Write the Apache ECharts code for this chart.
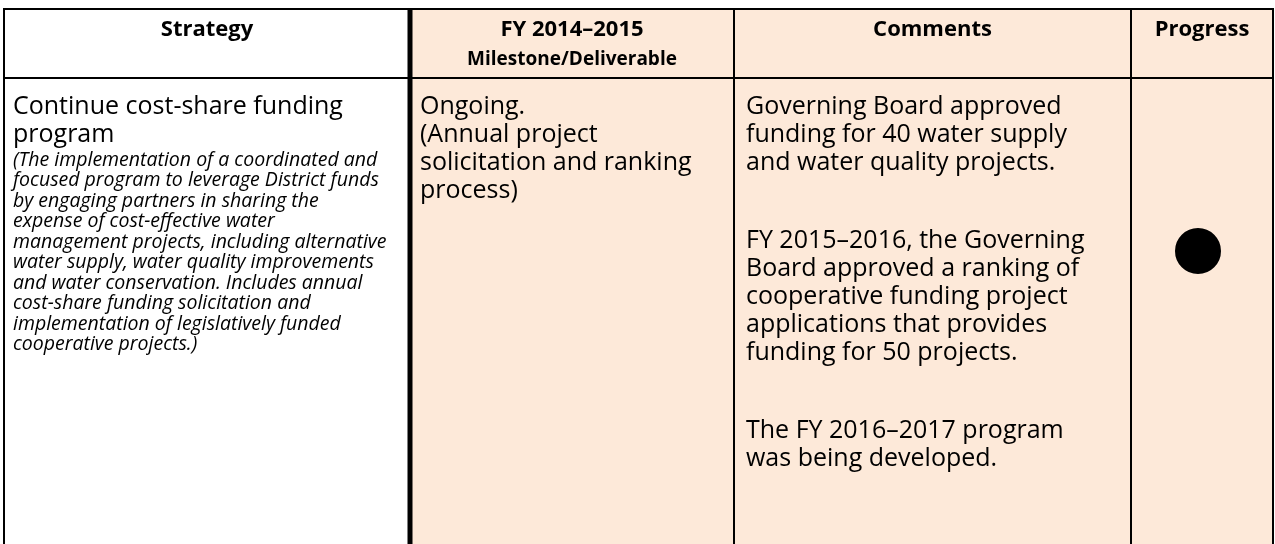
<!DOCTYPE html>
<html>
<head>
<meta charset="utf-8">
<script src="https://cdn.jsdelivr.net/npm/echarts@6/dist/echarts.min.js"></script>
<style>
  html, body { margin: 0; padding: 0; background: #fff; }
  #main { width: 1275px; height: 544px; }
</style>
</head>
<body>
<div id="main"></div>
<script>
// table content
var headers = ['Strategy', 'FY 2014\u20132015', 'Comments', 'Progress'];
var headerSub = ['', 'Milestone/Deliverable', '', ''];
var strategyTitle = ['Continue cost-share funding', 'program'];
var strategyNote = [
    '(The implementation of a coordinated and',
    'focused program to leverage District funds',
    'by engaging partners in sharing the',
    'expense of cost-effective water',
    'management projects, including alternative',
    'water supply, water quality improvements',
    'and water conservation. Includes annual',
    'cost-share funding solicitation and',
    'implementation of legislatively funded',
    'cooperative projects.)'
];
var milestoneLines = ['Ongoing.', '(Annual project', 'solicitation and ranking', 'process)'];
var commentParas = [
    ['Governing Board approved', 'funding for 40 water supply', 'and water quality projects.'],
    ['FY 2015\u20132016, the Governing', 'Board approved a ranking of', 'cooperative funding project',
     'applications that provides', 'funding for 50 projects.'],
    ['The FY 2016\u20132017 program', 'was being developed.']
];
var progress = ['full'];

// layout
var colEdges = [4, 410, 734, 1131, 1273];
var colFill = ['#ffffff', '#fde9d9', '#fde9d9', '#fde9d9'];
var tableTop = 9, headerBottom = 78, tableBottom = 560;
var font = '"Open Sans", "Noto Sans", sans-serif';

var dom = document.getElementById('main');
var myChart = echarts.init(dom);

var els = [];

// cell backgrounds
colFill.forEach(function (c, i) {
    els.push({
        type: 'rect',
        shape: { x: colEdges[i], y: tableTop, width: colEdges[i + 1] - colEdges[i], height: tableBottom - tableTop },
        style: { fill: c }
    });
});

// grid lines
function hline(y, x1, x2, w) {
    els.push({ type: 'line', shape: { x1: x1, y1: y, x2: x2, y2: y }, style: { stroke: '#000', lineWidth: w } });
}
function vline(x, w) {
    els.push({ type: 'line', shape: { x1: x, y1: tableTop - 1, x2: x, y2: tableBottom }, style: { stroke: '#000', lineWidth: w } });
}
hline(tableTop, colEdges[0] - 1, colEdges[4] + 1, 2);
hline(headerBottom, colEdges[0], colEdges[4], 2);
vline(colEdges[0], 2);
vline(colEdges[1], 5);
vline(colEdges[2], 2);
vline(colEdges[3], 2);
vline(colEdges[4], 2);

function txt(s, x, y, size, opts) {
    opts = opts || {};
    els.push({
        type: 'text',
        x: x, y: y,
        style: {
            text: s,
            fill: '#000',
            font: (opts.italic ? 'italic ' : '') + (opts.bold ? 'bold ' : '') + size + 'px ' + font,
            textAlign: opts.align || 'left',
            textVerticalAlign: 'middle'
        }
    });
}

// headers
headers.forEach(function (h, i) {
    var cx = (colEdges[i] + colEdges[i + 1]) / 2;
    txt(h, cx, 30, 22, { bold: true, align: 'center' });
    if (headerSub[i]) txt(headerSub[i], cx, 60, 19, { bold: true, align: 'center' });
});

// body text
var padL = 9, firstY = 107, bigLH = 28, smallLH = 20.5, paraGap = 50;
var bodySize = 25, noteSize = 19.5;

strategyTitle.forEach(function (s, k) {
    txt(s, colEdges[0] + padL, firstY + k * bigLH, bodySize);
});
var noteY = firstY + (strategyTitle.length - 1) * bigLH + 25;
strategyNote.forEach(function (s, k) {
    txt(s, colEdges[0] + padL, noteY + k * smallLH, noteSize, { italic: true });
});

milestoneLines.forEach(function (s, k) {
    txt(s, colEdges[1] + 10, firstY + k * bigLH, bodySize);
});

var y = firstY;
commentParas.forEach(function (p, pi) {
    p.forEach(function (s) {
        txt(s, colEdges[2] + 12, y, bodySize);
        y += bigLH;
    });
    y += paraGap;
});

// progress marker
progress.forEach(function (p) {
    els.push({
        type: 'circle',
        shape: { cx: (colEdges[3] + colEdges[4]) / 2 - 4, cy: 251, r: 22 },
        style: { fill: p === 'full' ? '#000' : 'none', stroke: '#000', lineWidth: 2 }
    });
});

var option = {
    animation: false,
    graphic: { elements: els }
};

myChart.setOption(option, true);
</script>
</body>
</html>
